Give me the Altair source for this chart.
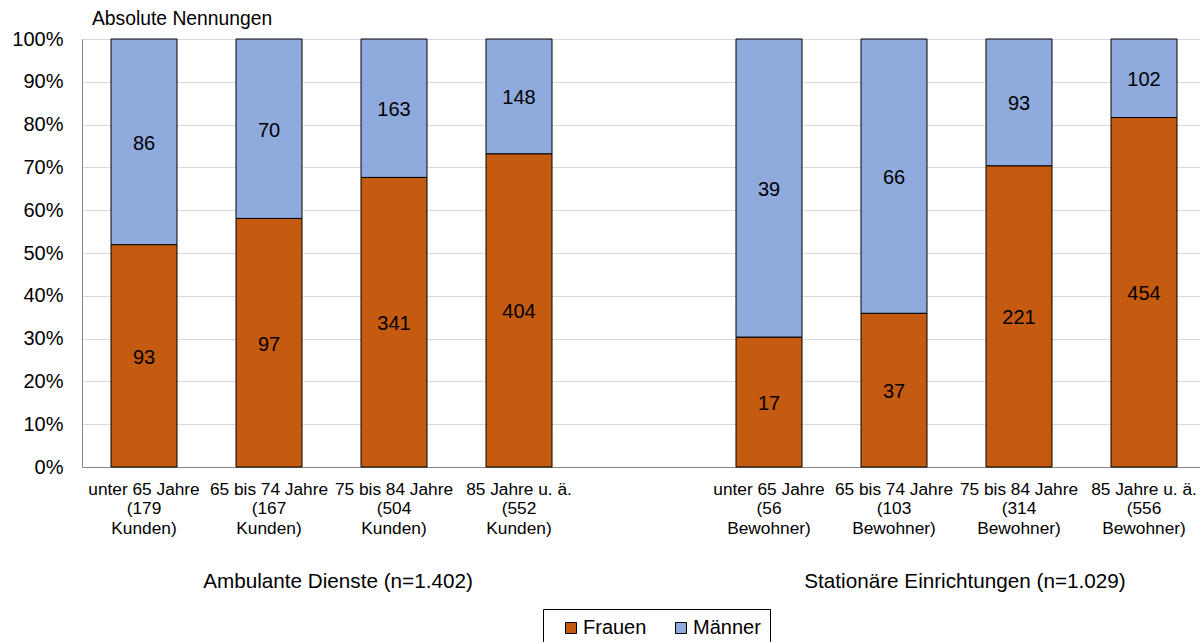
import altair as alt
import pandas as pd

categories = ["A1", "A2", "A3", "A4", "gap", "S1", "S2", "S3", "S4"]
cat_labels = [
    ["unter 65 Jahre", "(179", "Kunden)"],
    ["65 bis 74 Jahre", "(167", "Kunden)"],
    ["75 bis 84 Jahre", "(504", "Kunden)"],
    ["85 Jahre u. ä.", "(552", "Kunden)"],
    [""],
    ["unter 65 Jahre", "(56", "Bewohner)"],
    ["65 bis 74 Jahre", "(103", "Bewohner)"],
    ["75 bis 84 Jahre", "(314", "Bewohner)"],
    ["85 Jahre u. ä.", "(556", "Bewohner)"],
]
bar_cats = ["A1", "A2", "A3", "A4", "S1", "S2", "S3", "S4"]
frauen = [93, 97, 341, 404, 17, 37, 221, 454]
maenner = [86, 70, 163, 148, 39, 66, 93, 102]
series = ["Frauen", "Männer"]
colors = ["#C55A11", "#8FAADC"]
group_labels = ["Ambulante Dienste (n=1.402)", "Stationäre Einrichtungen (n=1.029)"]
y_ticks = [0, 0.1, 0.2, 0.3, 0.4, 0.5, 0.6, 0.7, 0.8, 0.9, 1.0]

rows = []
for c, f, m in zip(bar_cats, frauen, maenner):
    rows.append({"cat": c, "series": "Frauen", "ord": 0, "value": f})
    rows.append({"cat": c, "series": "Männer", "ord": 1, "value": m})
df = pd.DataFrame(rows)

label_map = {c: "|".join(l) for c, l in zip(categories, cat_labels)}
label_expr = "split({" + ",".join(f"'{k}':'{v}'" for k, v in label_map.items()) + "}[datum.value], '|')"

FONT = "Liberation Sans"

xscale = alt.Scale(domain=categories, range=[0, 1124], paddingInner=0.472, paddingOuter=0.232)
yscale = alt.Scale(domain=[0, 1])

base = alt.Chart(df)

bars = base.mark_bar(stroke="black", strokeWidth=1, size=66).encode(
    x=alt.X("cat:N", scale=xscale, sort=categories,
            axis=alt.Axis(title=None, labelExpr=label_expr, labelAngle=0, labelFontSize=17.3,
                          labelLineHeight=19.5, labelPadding=13, ticks=False, domainColor="#868686",
                          labelFont=FONT, labelColor="black", labelBaseline="top", grid=False)),
    y=alt.Y("value:Q", stack="normalize", scale=yscale,
            axis=alt.Axis(title=None, format=".0%", values=y_ticks, ticks=False, labelPadding=19,
                          labelFontSize=20, labelFont=FONT, labelColor="black",
                          domainColor="#868686", gridColor="#d9d9d9", grid=True)),
    color=alt.Color("series:N", scale=alt.Scale(domain=series, range=colors),
                    legend=alt.Legend(title=None, orient="none", legendX=461, legendY=570,
                                      direction="horizontal", strokeColor="black", padding=9,
                                      symbolType="square", symbolSize=121, symbolStrokeColor="black",
                                      symbolStrokeWidth=1, labelFontSize=20, labelFont=FONT,
                                      labelColor="black", columnPadding=15, labelOffset=2,
                                      symbolOffset=9)),
    order=alt.Order("ord:Q"),
)

texts = base.transform_stack(
    stack="value", groupby=["cat"], as_=["y0", "y1"], offset="normalize",
    sort=[alt.SortField("ord", order="ascending")]
).transform_calculate(
    mid="(datum.y0 + datum.y1) / 2"
).mark_text(fontSize=20, font=FONT, color="black", baseline="middle", dy=2).encode(
    x=alt.X("cat:N", scale=xscale, sort=categories),
    y=alt.Y("mid:Q", scale=yscale),
    text="value:Q",
)

title_df = pd.DataFrame({"t": ["Absolute Nennungen"]})
title = alt.Chart(title_df).mark_text(fontSize=19.3, font=FONT, color="black", align="left",
                                      baseline="middle").encode(
    x=alt.value(10), y=alt.value(-20), text="t:N")

g1 = alt.Chart(pd.DataFrame({"t": [group_labels[0]]})).mark_text(
    fontSize=20.7, font=FONT, color="black", align="center", baseline="middle").encode(
    x=alt.value(256), y=alt.value(543), text="t:N")
g2 = alt.Chart(pd.DataFrame({"t": [group_labels[1]]})).mark_text(
    fontSize=20.7, font=FONT, color="black", align="center", baseline="middle").encode(
    x=alt.value(883), y=alt.value(543), text="t:N")

chart = alt.layer(bars, texts, title, g1, g2).properties(
    width=1118, height=428,
    autosize=alt.AutoSizeParams(type="none"),
    padding={"left": 82, "top": 39, "right": 0, "bottom": 175},
).configure_view(stroke=None).configure(background="white")

chart.save("out.html", embed_options={"renderer": "svg", "actions": False})
